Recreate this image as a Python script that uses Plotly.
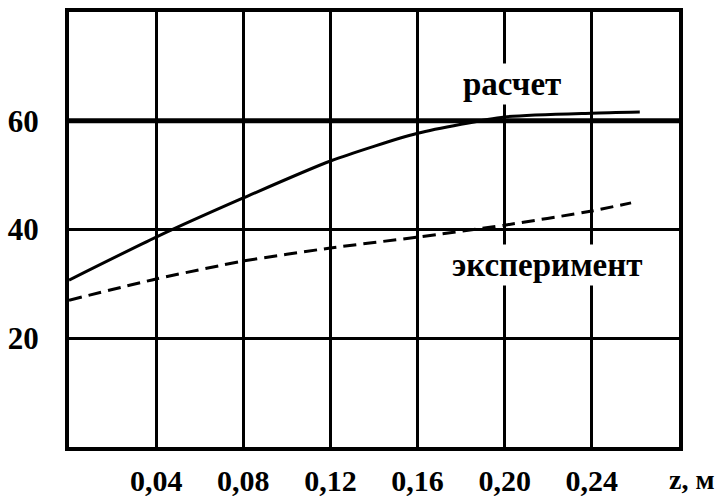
import plotly.graph_objects as go

# Data
z_calc = [0.0, 0.04, 0.08, 0.12, 0.16, 0.20, 0.24, 0.262]
calc_values = [30.7, 38.6, 45.8, 52.6, 57.7, 60.7, 61.4, 61.6]
z_exp = [0.0, 0.04, 0.08, 0.12, 0.16, 0.20, 0.24, 0.258]
exp_values = [27.0, 30.9, 34.2, 36.6, 38.6, 40.8, 43.4, 44.9]

x_tickvals = [0.04, 0.08, 0.12, 0.16, 0.20, 0.24]
x_ticktext = ["0,04", "0,08", "0,12", "0,16", "0,20", "0,24"]
y_tickvals = [20, 40, 60]
y_ticktext = ["20", "40", "60"]

FONT = "Times New Roman, Liberation Serif, serif"

fig = go.Figure()
fig.add_trace(go.Scatter(x=z_calc, y=calc_values, mode="lines",
                         line=dict(color="black", width=3, shape="spline", smoothing=0.6),
                         name="расчет", showlegend=False))
fig.add_trace(go.Scatter(x=z_exp, y=exp_values, mode="lines",
                         line=dict(color="black", width=3, dash="13px,7px", shape="spline", smoothing=0.6),
                         name="эксперимент", showlegend=False))

# the 60 gridline is drawn thicker in the reference
fig.add_hline(y=60, line=dict(color="black", width=5), layer="below")

fig.add_annotation(x=0.2035, y=66.8, xref="x", yref="y", text="расчет",
                   showarrow=False, bgcolor="white",
                   font=dict(family=FONT, size=33, color="black", weight="bold"),
                   borderpad=2)
fig.add_annotation(x=0.2195, y=33.5, xref="x", yref="y", text="эксперимент",
                   showarrow=False, bgcolor="white",
                   font=dict(family=FONT, size=33, color="black", weight="bold"),
                   borderpad=2)
fig.add_annotation(x=1.06, y=-0.112, xref="paper", yref="paper", text="z, м",
                   showarrow=False, xanchor="right", yanchor="bottom", borderpad=0,
                   font=dict(family=FONT, size=28, color="black", weight="bold"))

fig.update_xaxes(range=[0, 0.28], tickvals=x_tickvals, ticktext=x_ticktext,
                 showgrid=True, gridcolor="black", gridwidth=3,
                 showline=True, linecolor="black", linewidth=4, mirror=True,
                 zeroline=False, ticks="", ticklabelstandoff=4, automargin=False,
                 tickfont=dict(family=FONT, size=30, color="black", weight="bold"))
fig.update_yaxes(range=[0, 80], tickvals=y_tickvals, ticktext=y_ticktext,
                 showgrid=True, gridcolor="black", gridwidth=3,
                 showline=True, linecolor="black", linewidth=4, mirror=True,
                 zeroline=False, ticks="", ticklabelstandoff=20, automargin=False,
                 tickfont=dict(family=FONT, size=31, color="black", weight="bold"))

fig.update_layout(width=724, height=497, margin=dict(l=69, r=45, t=12, b=50),
                  plot_bgcolor="white", paper_bgcolor="white", showlegend=False)

fig.write_html("out.html", config={"displayModeBar": False},
               post_script="document.body.style.margin='0';document.body.style.overflow='hidden';")
